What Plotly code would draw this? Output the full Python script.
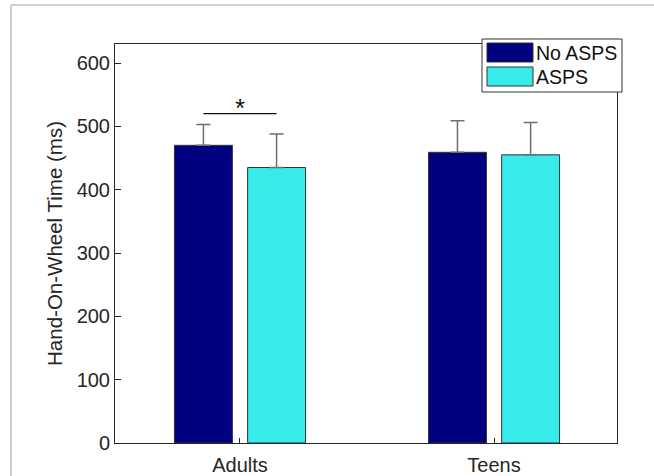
import plotly.graph_objects as go

groups = ["Adults", "Teens"]
group_pos = [1, 2]
no_asps = [470, 459]
no_asps_err = [33, 50]
asps = [435, 455]
asps_err = [53, 51]
yticks = [0, 100, 200, 300, 400, 500, 600]
series_names = ["No ASPS", "ASPS"]
colors = ["#000080", "#38EBEB"]

off = 0.144
bw = 0.228
font = "Liberation Sans, Arial, sans-serif"
txt = "#262626"

fig = go.Figure()
for vals, errs, sgn, col, name in [(no_asps, no_asps_err, -1, colors[0], series_names[0]),
                                   (asps, asps_err, 1, colors[1], series_names[1])]:
    fig.add_trace(go.Bar(
        x=[g + sgn * off for g in group_pos], y=vals, width=bw, name=name,
        marker=dict(color=col, line=dict(color="#333333", width=1)),
        error_y=dict(type="data", symmetric=False, array=errs, arrayminus=[0] * len(errs),
                     color="#6e6e6e", thickness=1.5, width=7),
        showlegend=False,
    ))

# significance marker
fig.add_trace(go.Scatter(x=[group_pos[0] - off, group_pos[0] + off], y=[520, 520], mode="lines",
                         line=dict(color="#111111", width=1.2), showlegend=False, hoverinfo="skip"))
fig.add_annotation(x=group_pos[0], y=520, text="*", showarrow=False, yanchor="bottom", yshift=-11,
                   font=dict(family=font, size=26, color="#111111"))

axis_common = dict(showline=True, linecolor=txt, linewidth=1, mirror=True, ticks="inside",
                   tickcolor=txt, showgrid=False, zeroline=False, automargin=False,
                   tickfont=dict(family=font, size=20, color=txt))
fig.update_xaxes(range=[0.508, 2.484], tickvals=group_pos, ticktext=groups, ticklen=5,
                 ticklabelstandoff=4, **axis_common)
fig.update_yaxes(range=[0, 630], tickvals=yticks, ticklen=6,
                 title=dict(text="Hand-On-Wheel Time (ms)", font=dict(family=font, size=20.5, color=txt), standoff=8),
                 **axis_common)

pw = 617 - 115
ph = 443 - 44
def px(x):
    return (x - 115) / pw
def py(y):
    return (443 - y) / ph

# figure frame edge (window border)
fig.add_shape(type="line", xref="paper", yref="paper", x0=px(11), x1=px(660), y0=py(5), y1=py(5),
              line=dict(color="#cfcfcf", width=2))
fig.add_shape(type="line", xref="paper", yref="paper", x0=px(11), x1=px(11), y0=py(480), y1=py(5),
              line=dict(color="#cfcfcf", width=2))

# legend drawn manually
fig.add_shape(type="rect", xref="paper", yref="paper", x0=px(482), x1=px(622), y0=py(92), y1=py(39),
              line=dict(color="#333333", width=1), fillcolor="white")
for i, (name, col) in enumerate(zip(series_names, colors)):
    ytop = 43 + i * 24
    fig.add_shape(type="rect", xref="paper", yref="paper", x0=px(487), x1=px(533), y0=py(ytop + 19), y1=py(ytop),
                  line=dict(color="#333333", width=1), fillcolor=col)
    fig.add_annotation(xref="paper", yref="paper", x=px(534), y=py(ytop + 10), text=name, showarrow=False,
                       xanchor="left", yanchor="middle", font=dict(family=font, size=19.5, color="#111111"))

fig.update_layout(width=654, height=476, margin=dict(l=115, r=37, t=44, b=33),
                  plot_bgcolor="white", paper_bgcolor="white", barmode="overlay")
fig.write_html("out.html", config={"displayModeBar": False},
               post_script="document.body.style.margin='0';document.body.style.padding='0';")
